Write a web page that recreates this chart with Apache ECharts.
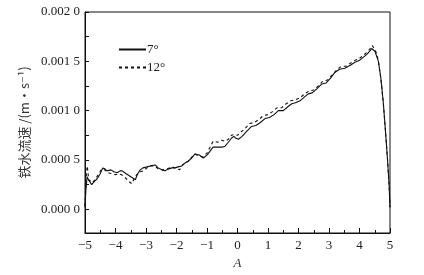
<!DOCTYPE html>
<html><head><meta charset="utf-8">
<script src="https://cdn.jsdelivr.net/npm/echarts@6/dist/echarts.min.js"></script>
<style>html,body{margin:0;padding:0;background:#fff}#c{width:424px;height:275px}</style>
</head><body><div id="c"></div>
<script>
const seriesNames = ['7°', '12°'];
const x7 = [-5.0,-4.97,-4.93,-4.9,-4.87,-4.82,-4.78,-4.7,-4.6,-4.5,-4.42,-4.35,-4.28,-4.15,-4.05,-3.95,-3.85,-3.78,-3.65,-3.55,-3.45,-3.35,-3.3,-3.25,-3.19,-3.1,-2.97,-2.85,-2.7,-2.6,-2.48,-2.38,-2.25,-2.15,-2.05,-1.95,-1.83,-1.72,-1.61,-1.5,-1.4,-1.34,-1.25,-1.12,-1.0,-0.9,-0.8,-0.74,-0.6,-0.5,-0.41,-0.3,-0.2,-0.12,-0.05,0.03,0.15,0.3,0.46,0.6,0.75,0.9,1.05,1.2,1.34,1.5,1.65,1.78,1.9,2.05,2.2,2.32,2.45,2.6,2.76,2.9,3.05,3.2,3.35,3.52,3.7,3.85,4.0,4.12,4.24,4.33,4.4,4.45,4.51,4.56,4.62,4.7,4.78,4.85,4.92,4.97,5.0];
const y7 = [0.00002,0.00020,0.00033,0.00034,0.00029,0.00027,0.00025,0.00028,0.00031,0.00036,0.00042,0.00041,0.00039,0.00040,0.00038,0.00037,0.00039,0.00039,0.00036,0.00034,0.00032,0.00030,0.00034,0.00037,0.00040,0.00042,0.00043,0.00044,0.00045,0.00042,0.00040,0.00039,0.00041,0.00042,0.00042,0.00043,0.00044,0.00047,0.00049,0.00052,0.00056,0.00057,0.00055,0.00052,0.00055,0.00059,0.00063,0.00064,0.00063,0.00063,0.00064,0.00068,0.00072,0.00074,0.00072,0.00071,0.00074,0.00079,0.00084,0.00085,0.00088,0.00092,0.00093,0.00096,0.00100,0.00100,0.00104,0.00107,0.00108,0.00110,0.00114,0.00117,0.00118,0.00122,0.00127,0.00128,0.00133,0.00139,0.00142,0.00143,0.00146,0.00149,0.00151,0.00154,0.00157,0.00160,0.00163,0.00164,0.00160,0.00158,0.00150,0.00133,0.00108,0.00080,0.00050,0.00025,0.00002];
const x12 = [-5.0,-4.97,-4.93,-4.91,-4.88,-4.82,-4.75,-4.65,-4.55,-4.45,-4.35,-4.25,-4.1,-4.0,-3.9,-3.8,-3.68,-3.55,-3.46,-3.38,-3.28,-3.18,-3.08,-2.97,-2.85,-2.72,-2.6,-2.45,-2.3,-2.15,-2.05,-1.9,-1.8,-1.7,-1.6,-1.5,-1.38,-1.28,-1.15,-1.0,-0.9,-0.8,-0.65,-0.52,-0.4,-0.3,-0.2,-0.1,0.0,0.1,0.25,0.4,0.55,0.7,0.85,1.0,1.15,1.3,1.45,1.6,1.75,1.9,2.05,2.2,2.35,2.5,2.65,2.8,2.95,3.1,3.25,3.4,3.55,3.7,3.85,4.0,4.12,4.24,4.33,4.42,4.5,4.56,4.62,4.7,4.78,4.85,4.92,4.97,5.0];
const y12 = [0.00003,0.00030,0.00044,0.00040,0.00030,0.00028,0.00027,0.00031,0.00036,0.00041,0.00040,0.00037,0.00036,0.00035,0.00036,0.00035,0.00032,0.00028,0.00026,0.00032,0.00036,0.00038,0.00039,0.00042,0.00044,0.00044,0.00041,0.00040,0.00041,0.00043,0.00042,0.00040,0.00045,0.00047,0.00049,0.00053,0.00056,0.00054,0.00053,0.00057,0.00063,0.00069,0.00068,0.00070,0.00069,0.00071,0.00075,0.00076,0.00075,0.00078,0.00082,0.00087,0.00088,0.00091,0.00095,0.00096,0.00099,0.00103,0.00103,0.00107,0.00110,0.00111,0.00113,0.00117,0.00120,0.00121,0.00125,0.00130,0.00131,0.00136,0.00141,0.00145,0.00145,0.00148,0.00151,0.00153,0.00156,0.00159,0.00162,0.00166,0.00162,0.00158,0.00150,0.00133,0.00108,0.00080,0.00050,0.00025,0.00002];
const yLabelValues = [0, 0.0005, 0.001, 0.0015, 0.002];
const yTickValues = [0, 0.00025, 0.0005, 0.00075, 0.001, 0.00125, 0.0015, 0.00175, 0.002];
const yName = '铁水流速 /(m·s⁻¹)';
const xName = 'A';

const pairs = (xs, ys) => xs.map((v, i) => [v, ys[i]]);
const font = '"Liberation Serif","DejaVu Serif",serif';
const chart = echarts.init(document.getElementById('c'), null, {renderer: 'canvas'});
chart.setOption({
  animation: false,
  backgroundColor: '#fff',
  grid: {left: 85, right: 34, top: 12, bottom: 39, show: true, borderColor: '#111', borderWidth: 1, backgroundColor: 'transparent'},
  legend: {
    orient: 'vertical', left: 113, top: 38, itemWidth: 27, itemHeight: 10, itemGap: 5,
    data: seriesNames,
    itemStyle: {color: 'rgba(0,0,0,0)', borderColor: 'rgba(0,0,0,0)', borderWidth: 0},
    textStyle: {fontFamily: font, fontSize: 13, color: '#222', padding: [0, 0, 0, -4]}
  },
  xAxis: {
    type: 'value', min: -5, max: 5, interval: 1,
    name: xName, nameLocation: 'middle', nameGap: 24,
    nameTextStyle: {fontFamily: font, fontSize: 13, fontStyle: 'italic', color: '#333'},
    axisLine: {onZero: false, lineStyle: {color: '#111', width: 1}},
    axisTick: {inside: true, length: 5, lineStyle: {color: '#111'}},
    minorTick: {show: true, splitNumber: 2, length: 3, lineStyle: {color: '#111'}},
    splitLine: {show: false},
    axisLabel: {fontFamily: font, fontSize: 13, color: '#222', margin: 6,
      formatter: v => String(v).replace('-', '\u2212')}
  },
  yAxis: {
    type: 'value', min: -0.00024, max: 0.002,
    name: yName, nameLocation: 'middle', nameGap: 52, nameRotate: 90,
    nameTextStyle: {fontFamily: '"Noto Sans CJK SC",' + font, fontSize: 13, color: '#333'},
    axisLine: {onZero: false, lineStyle: {color: '#111', width: 1}},
    axisTick: {inside: true, length: 4, customValues: yTickValues, lineStyle: {color: '#111'}},
    splitLine: {show: false},
    axisLabel: {fontFamily: font, fontSize: 13, color: '#222', margin: 5, customValues: yLabelValues,
      formatter: v => { const s = Number(v).toFixed(4); return s.slice(0, 5) + ' ' + s.slice(5); }}
  },
  series: [
    {name: seriesNames[0], type: 'line', data: pairs(x7, y7), symbol: 'none', smooth: false,
     lineStyle: {color: '#111', width: 1.1, type: 'solid'}, itemStyle: {color: '#111'}, z: 3},
    {name: seriesNames[1], type: 'line', data: pairs(x12, y12), symbol: 'none', smooth: false,
     lineStyle: {color: '#111', width: 1.1, type: [3, 3]}, itemStyle: {color: '#111'}, z: 2}
  ]
});
</script></body></html>
